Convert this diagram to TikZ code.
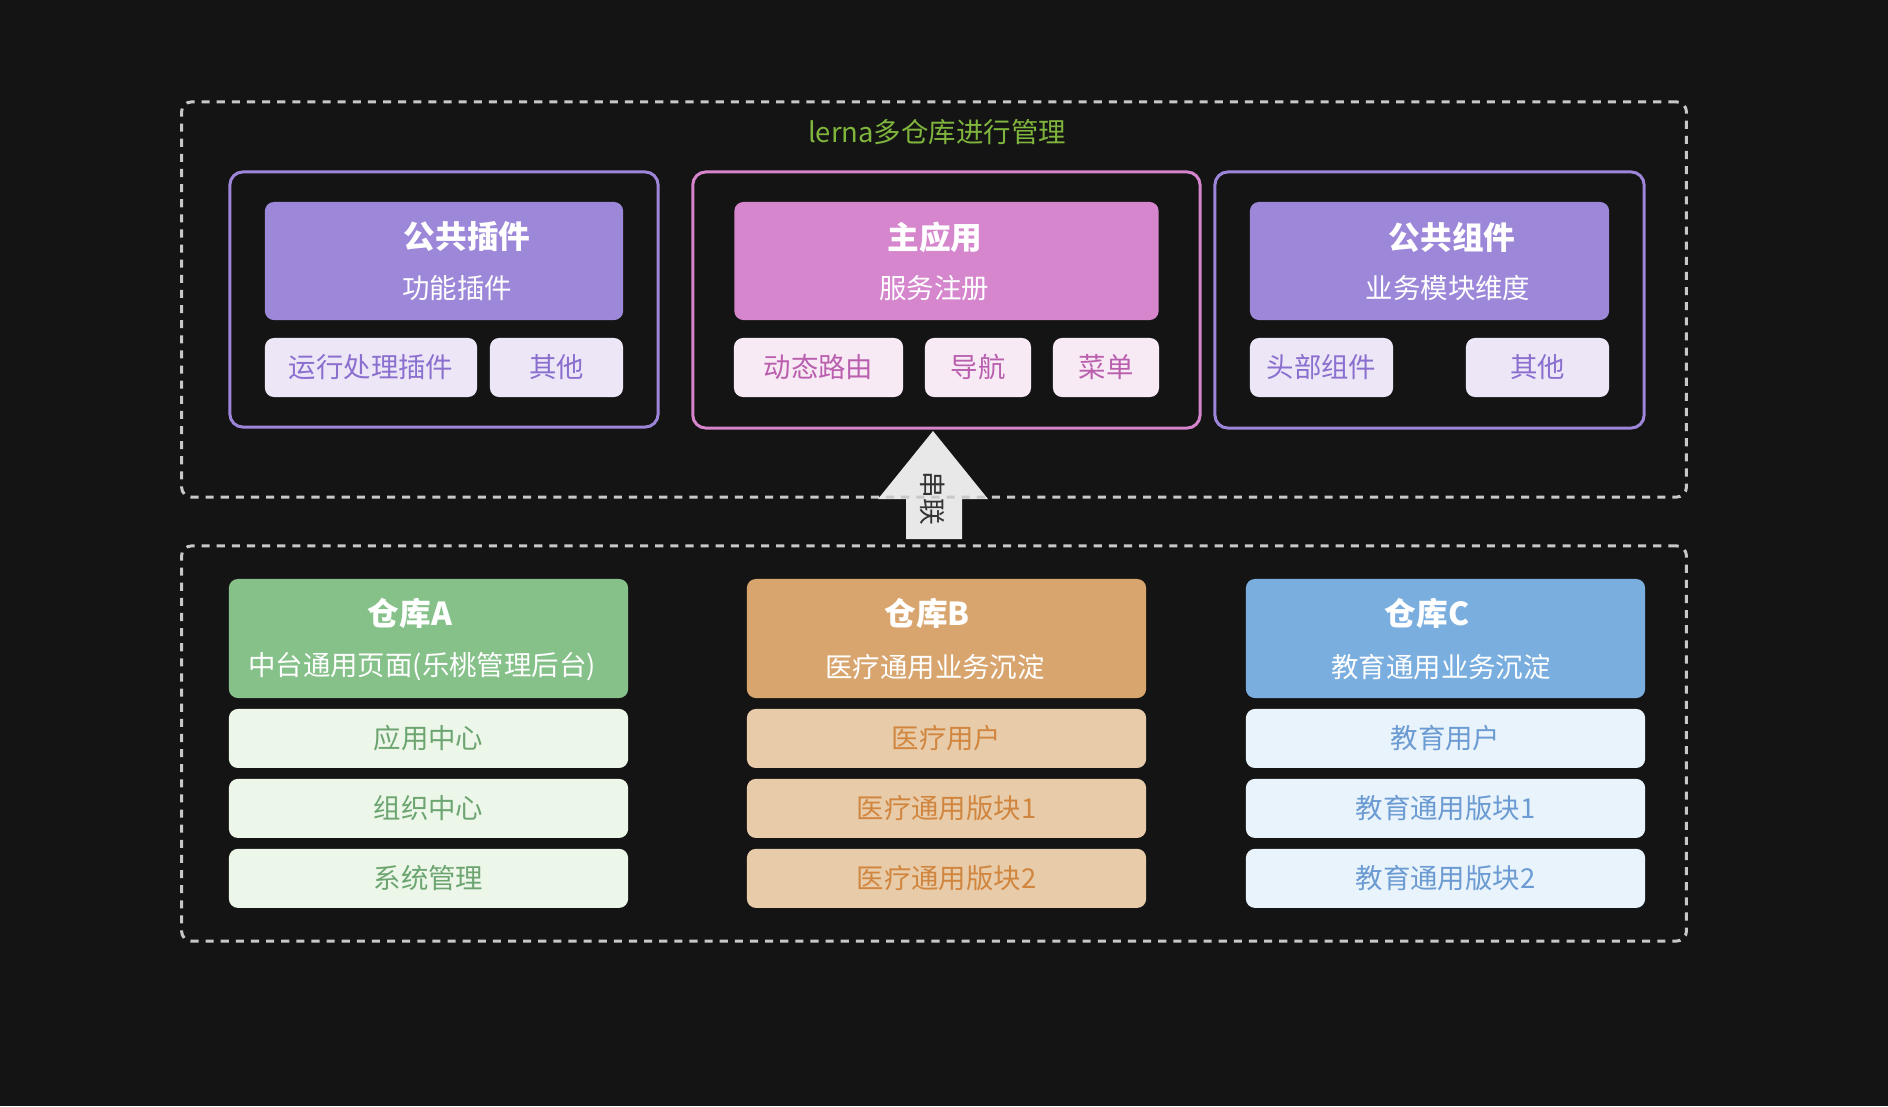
\documentclass[tikz,border=0pt]{standalone}
\usepackage{fontspec}
\setmainfont{Noto Sans CJK SC}
\usepackage{xcolor}
\usepackage{tikz}
\usetikzlibrary{positioning}

\definecolor{bgdark}{HTML}{141414}
\definecolor{dashgray}{HTML}{C8C8C8}
\definecolor{lernagreen}{HTML}{80B53D}
\definecolor{purplebd}{HTML}{9D86D9}
\definecolor{purplehd}{HTML}{9D87D9}
\definecolor{purplelt}{HTML}{EDE6F7}
\definecolor{purpletx}{HTML}{8A6FCF}
\definecolor{pinkbd}{HTML}{D684CC}
\definecolor{pinkhd}{HTML}{D586CD}
\definecolor{pinklt}{HTML}{F8EAF5}
\definecolor{pinktx}{HTML}{B95FAE}
\definecolor{greenhd}{HTML}{86C18A}
\definecolor{greenlt}{HTML}{ECF6E9}
\definecolor{greentx}{HTML}{6DA571}
\definecolor{orangehd}{HTML}{D8A56E}
\definecolor{orangelt}{HTML}{E8CBA8}
\definecolor{orangetx}{HTML}{D18640}
\definecolor{bluehd}{HTML}{7AAEDF}
\definecolor{bluelt}{HTML}{E8F3FB}
\definecolor{bluetx}{HTML}{6B9BD2}
\definecolor{arrowgray}{HTML}{E8E8E8}
\definecolor{arrowtext}{HTML}{333333}

\begin{document}
\begin{tikzpicture}[x=0.01cm, y=-0.01cm]
		% Define styles with simple colors
		\tikzstyle{dashbox} = [rectangle, draw=dashgray, line width=0.85pt, dash pattern=on 2.3pt off 2pt, rounded corners=0.1cm, minimum width=15.04cm, minimum height=3.95cm]
		\tikzstyle{group} = [rectangle, line width=0.85pt, fill=bgdark, rounded corners=0.13cm, minimum height=2.56cm]
		\tikzstyle{header} = [rectangle, rounded corners=0.09cm, minimum height=1.18cm]
		\tikzstyle{item} = [rectangle, rounded corners=0.09cm, minimum height=0.59cm, font=\fontsize{7.8pt}{9pt}\selectfont]
		\tikzstyle{row} = [item, minimum width=3.99cm]
		\tikzstyle{title} = [text=white, font=\fontsize{9pt}{11pt}\selectfont\bfseries]
		\tikzstyle{subtitle} = [text=white, font=\fontsize{7.8pt}{9pt}\selectfont]

		% Background
		\fill[bgdark] (0,0) rectangle (1888,1106);
		\useasboundingbox (0,0) rectangle (1888,1106);

		% Arrow between the two areas
		\fill[arrowgray] (933,431) -- (988,499) -- (962,499) -- (962,539) -- (906,539) -- (906,499) -- (878,499) -- cycle;
		\node[rotate=-90, text=arrowtext, font=\fontsize{7.6pt}{9pt}\selectfont] (chuanlian) at (933,498) {串联};

		% Outer areas
		\node[dashbox] (lernabox) at (934,299.5) {};
		\node[dashbox] (repobox) at (934,743.5) {};
		\node[text=lernagreen, font=\fontsize{7.8pt}{9pt}\selectfont] (lernatitle) at (937,132) {lerna多仓库进行管理};

		% Upper groups
		\node[group, draw=purplebd, minimum width=4.28cm, minimum height=2.55cm] (plugingroup) at (444,299.5) {};
		\node[group, draw=pinkbd, minimum width=5.07cm] (maingroup) at (946.4,300) {};
		\node[group, draw=purplebd, minimum width=4.29cm] (compgroup) at (1429.5,300) {};

		\node[header, fill=purplehd, minimum width=3.58cm] (pluginhdr) at (444,261) {};
		\node[header, fill=pinkhd, minimum width=4.24cm] (mainhdr) at (946.5,261) {};
		\node[header, fill=purplehd, minimum width=3.59cm] (comphdr) at (1429.5,261) {};

		\node[title] (plugintitle) at (467,237) {公共插件};
		\node[subtitle] (pluginsub) at (457,288) {功能插件};
		\node[title] (maintitle) at (935,237) {主应用};
		\node[subtitle] (mainsub) at (934,288) {服务注册};
		\node[title] (comptitle) at (1452,237) {公共组件};
		\node[subtitle] (compsub) at (1448,288) {业务模块维度};

		\node[item, fill=purplelt, text=purpletx, minimum width=2.12cm] (runplugin) at (371,367.5) {运行处理插件};
		\node[item, fill=purplelt, text=purpletx, minimum width=1.33cm] (otherplugin) at (556.5,367.5) {其他};
		\node[item, fill=pinklt, text=pinktx, minimum width=1.69cm] (route) at (818.5,367.5) {动态路由};
		\node[item, fill=pinklt, text=pinktx, minimum width=1.06cm] (nav) at (978,367.5) {导航};
		\node[item, fill=pinklt, text=pinktx, minimum width=1.06cm] (menu) at (1106,367.5) {菜单};
		\node[item, fill=purplelt, text=purpletx, minimum width=1.43cm] (headcomp) at (1321.5,367.5) {头部组件};
		\node[item, fill=purplelt, text=purpletx, minimum width=1.43cm] (othercomp) at (1537.5,367.5) {其他};

		% Repositories
		\node[header, fill=greenhd, minimum width=3.99cm, minimum height=1.19cm] (repoA) at (428.5,638.5) {};
		\node[header, fill=orangehd, minimum width=3.99cm, minimum height=1.19cm] (repoB) at (946.5,638.5) {};
		\node[header, fill=bluehd, minimum width=3.99cm, minimum height=1.19cm] (repoC) at (1445.5,638.5) {};

		\node[title] (repoAtitle) at (410,613) {仓库A};
		\node[subtitle] (repoAsub) at (422,667) {中台通用页面(乐桃管理后台)};
		\node[title] (repoBtitle) at (927,613) {仓库B};
		\node[subtitle] (repoBsub) at (935,667) {医疗通用业务沉淀};
		\node[title] (repoCtitle) at (1427,613) {仓库C};
		\node[subtitle] (repoCsub) at (1441,667) {教育通用业务沉淀};

		\node[row, fill=greenlt, text=greentx, below=0.095cm of repoA] (appcenter) {应用中心};
		\node[row, fill=greenlt, text=greentx, below=0.095cm of appcenter] (orgcenter) {组织中心};
		\node[row, fill=greenlt, text=greentx, below=0.095cm of orgcenter] (sysmgmt) {系统管理};

		\node[row, fill=orangelt, text=orangetx, below=0.095cm of repoB] (meduser) {医疗用户};
		\node[row, fill=orangelt, text=orangetx, below=0.095cm of meduser] (medblock1) {医疗通用版块1};
		\node[row, fill=orangelt, text=orangetx, below=0.095cm of medblock1] (medblock2) {医疗通用版块2};

		\node[row, fill=bluelt, text=bluetx, below=0.095cm of repoC] (eduuser) {教育用户};
		\node[row, fill=bluelt, text=bluetx, below=0.095cm of eduuser] (edublock1) {教育通用版块1};
		\node[row, fill=bluelt, text=bluetx, below=0.095cm of edublock1] (edublock2) {教育通用版块2};
	\end{tikzpicture}
\end{document}
